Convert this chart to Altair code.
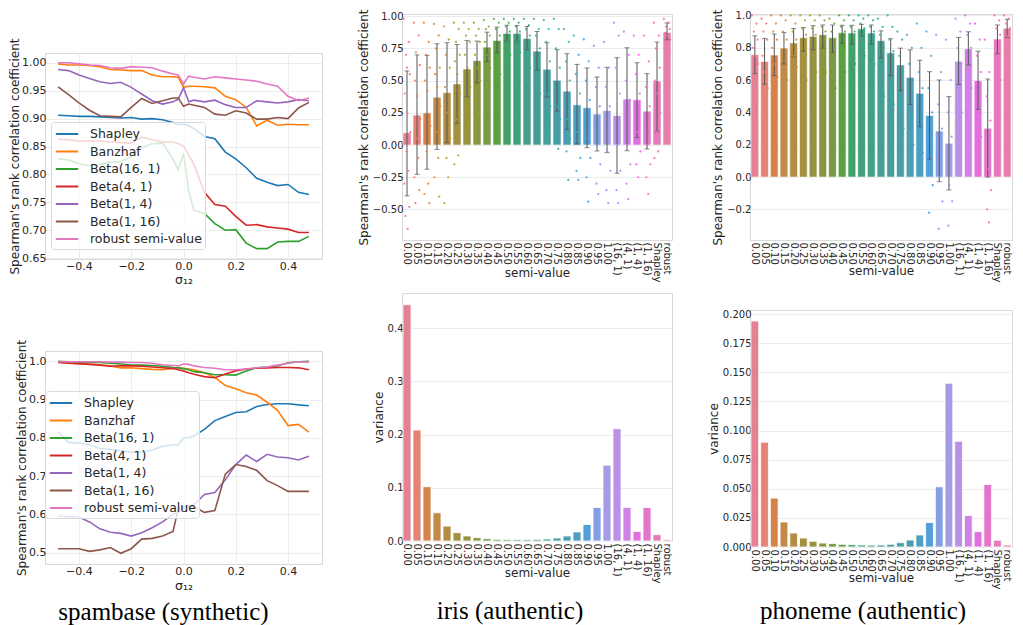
import math
import colorsys
import altair as alt
import pandas as pd

# ---------------- data ----------------
sigma = [-0.48, -0.44, -0.40, -0.36, -0.32, -0.28, -0.24, -0.20, -0.16, -0.12, -0.08, -0.04,
         -0.02, 0.00, 0.02,
         0.04, 0.08, 0.12, 0.16, 0.20, 0.24, 0.28, 0.32, 0.36, 0.40, 0.44, 0.48]

series_names = ["Shapley", "Banzhaf", "Beta(16, 1)", "Beta(4, 1)", "Beta(1, 4)", "Beta(1, 16)", "robust semi-value"]

A_shapley = [0.906, 0.905, 0.904, 0.904, 0.903, 0.902, 0.901, 0.902, 0.899, 0.900, 0.898, 0.893, 0.889, 0.890, 0.887,
             0.882, 0.868, 0.864, 0.840, 0.828, 0.812, 0.793, 0.786, 0.780, 0.782, 0.768, 0.764]
A_banzhaf = [0.998, 0.996, 0.996, 0.995, 0.993, 0.988, 0.987, 0.986, 0.986, 0.978, 0.975, 0.975, 0.974, 0.956, 0.958,
             0.958, 0.957, 0.955, 0.940, 0.934, 0.920, 0.887, 0.897, 0.888, 0.890, 0.889, 0.889]
A_beta16_1 = [0.828, 0.826, 0.819, 0.815, 0.818, 0.822, 0.823, 0.832, 0.848, 0.855, 0.856, 0.827, 0.808, 0.838, 0.770,
              0.736, 0.730, 0.712, 0.700, 0.701, 0.677, 0.667, 0.667, 0.679, 0.680, 0.680, 0.689]
A_beta4_1 = [0.863, 0.862, 0.860, 0.860, 0.860, 0.858, 0.857, 0.856, 0.867, 0.862, 0.858, 0.858, 0.855, 0.851, 0.835,
             0.818, 0.768, 0.746, 0.743, 0.725, 0.709, 0.710, 0.706, 0.704, 0.702, 0.696, 0.696]
A_beta1_4 = [0.988, 0.986, 0.978, 0.972, 0.966, 0.963, 0.965, 0.956, 0.944, 0.932, 0.926, 0.930, 0.935, 0.955, 0.930,
             0.933, 0.930, 0.933, 0.925, 0.920, 0.920, 0.932, 0.930, 0.928, 0.930, 0.934, 0.932]
A_beta1_16 = [0.957, 0.943, 0.928, 0.915, 0.905, 0.904, 0.903, 0.920, 0.936, 0.927, 0.932, 0.937, 0.937, 0.922, 0.926,
              0.924, 0.920, 0.908, 0.906, 0.914, 0.910, 0.899, 0.899, 0.902, 0.900, 0.919, 0.929]
A_robust = [1.000, 1.000, 0.998, 0.996, 0.995, 0.991, 0.990, 0.993, 0.992, 0.991, 0.985, 0.980, 0.978, 0.962, 0.976,
            0.974, 0.971, 0.975, 0.973, 0.971, 0.969, 0.967, 0.962, 0.958, 0.940, 0.932, 0.937]

D_shapley = [0.816, 0.788, 0.786, 0.782, 0.772, 0.770, 0.766, 0.762, 0.763, 0.768, 0.778, 0.782, 0.782, 0.800, 0.801,
             0.805, 0.822, 0.845, 0.856, 0.866, 0.868, 0.882, 0.887, 0.889, 0.889, 0.886, 0.884]
D_banzhaf = [0.998, 0.996, 0.994, 0.993, 0.991, 0.988, 0.983, 0.983, 0.981, 0.979, 0.978, 0.982, 0.983, 0.982, 0.980,
             0.978, 0.970, 0.958, 0.937, 0.928, 0.918, 0.912, 0.893, 0.872, 0.832, 0.835, 0.815]
D_beta16_1 = [1.000, 0.999, 0.998, 0.998, 0.997, 0.995, 0.993, 0.990, 0.990, 0.989, 0.987, 0.984, 0.983, 0.981, 0.978,
              0.973, 0.970, 0.965, 0.965, 0.964, 0.975, 0.983, 0.985, 0.988, 0.996, 0.999, 1.000]
D_beta4_1 = [0.997, 0.995, 0.994, 0.992, 0.990, 0.987, 0.988, 0.988, 0.987, 0.985, 0.983, 0.981, 0.978, 0.975, 0.970,
             0.966, 0.960, 0.957, 0.967, 0.975, 0.980, 0.982, 0.983, 0.984, 0.984, 0.983, 0.978]
D_beta1_4 = [0.595, 0.594, 0.593, 0.580, 0.562, 0.553, 0.550, 0.543, 0.552, 0.565, 0.580, 0.600, 0.605, 0.615, 0.620,
             0.625, 0.652, 0.657, 0.690, 0.730, 0.755, 0.738, 0.757, 0.750, 0.748, 0.742, 0.752]
D_beta1_16 = [0.510, 0.510, 0.510, 0.503, 0.507, 0.513, 0.498, 0.510, 0.535, 0.537, 0.543, 0.555, 0.615, 0.620, 0.622,
              0.620, 0.605, 0.610, 0.705, 0.730, 0.725, 0.715, 0.688, 0.675, 0.660, 0.660, 0.660]
D_robust = [0.999, 0.999, 0.999, 0.999, 0.999, 0.998, 0.998, 0.997, 0.997, 0.995, 0.991, 0.989, 0.988, 0.993, 0.992,
            0.988, 0.984, 0.982, 0.978, 0.978, 0.980, 0.983, 0.985, 0.990, 0.995, 0.999, 0.998]

cats = ["0.00", "0.05", "0.10", "0.15", "0.20", "0.25", "0.30", "0.35", "0.40", "0.45", "0.50",
        "0.55", "0.60", "0.65", "0.70", "0.75", "0.80", "0.85", "0.90", "0.95", "1.00",
        "(16, 1)", "(4, 1)", "(1, 4)", "(1, 16)", "Shapley", "robust"]

iris_mean = [0.095, 0.232, 0.250, 0.371, 0.407, 0.474, 0.590, 0.655, 0.760, 0.812, 0.866, 0.866, 0.827, 0.729,
             0.588, 0.503, 0.418, 0.312, 0.289, 0.240, 0.268, 0.229, 0.356, 0.351, 0.263, 0.497, 0.874]
iris_lo = [-0.394, -0.227, -0.188, -0.034, 0.018, 0.168, 0.374, 0.482, 0.649, 0.716, 0.804, 0.799, 0.740, 0.580,
           0.374, 0.263, 0.121, 0.008, -0.021, -0.046, -0.059, -0.219, -0.044, 0.059, -0.031, 0.103, 0.817]
iris_hi = [0.575, 0.700, 0.696, 0.786, 0.794, 0.780, 0.812, 0.807, 0.876, 0.915, 0.930, 0.928, 0.920, 0.881,
           0.794, 0.740, 0.709, 0.626, 0.598, 0.528, 0.603, 0.678, 0.755, 0.639, 0.554, 0.799, 0.948]
iris_pts = [
    [0.98, 0.80, 0.70, 0.55, 0.40, 0.25, 0.10, -0.05, -0.20, -0.30, -0.48, -0.55, -0.65, 0.60],
    [0.95, 0.85, 0.72, 0.62, 0.50, 0.38, 0.20, 0.05, -0.10, -0.25, -0.35, -0.45],
    [0.95, 0.80, 0.70, 0.60, 0.50, 0.42, 0.15, -0.05, -0.30, -0.38, -0.45],
    [0.94, 0.85, 0.75, 0.60, 0.55, 0.45, 0.30, 0.10, -0.10, -0.25, -0.40],
    [0.92, 0.82, 0.70, 0.60, 0.45, 0.25, 0.05, -0.10, -0.25, -0.45],
    [0.95, 0.90, 0.80, 0.70, 0.65, 0.55, 0.40, 0.20, -0.08, -0.15],
    [0.95, 0.90, 0.85, 0.80, 0.70, 0.60, 0.45, 0.30, 0.15],
    [0.95, 0.90, 0.85, 0.80, 0.70, 0.60, 0.50, 0.35, 0.25],
    [0.97, 0.92, 0.90, 0.85, 0.80, 0.70, 0.60, 0.45],
    [0.98, 0.95, 0.90, 0.85, 0.78, 0.70, 0.55, 0.50],
    [0.98, 0.95, 0.92, 0.88, 0.85, 0.80, 0.70, 0.65],
    [0.98, 0.95, 0.92, 0.88, 0.85, 0.80, 0.72],
    [0.98, 0.93, 0.90, 0.85, 0.80, 0.70, 0.60, 0.50],
    [0.98, 0.90, 0.85, 0.75, 0.65, 0.55, 0.40, 0.30],
    [0.97, 0.90, 0.80, 0.65, 0.50, 0.40, 0.30, 0.20, 0.10],
    [0.98, 0.90, 0.75, 0.60, 0.45, 0.30, 0.20, 0.05, -0.03],
    [0.90, 0.80, 0.65, 0.50, 0.35, 0.20, 0.05, -0.05, -0.27],
    [0.85, 0.70, 0.55, 0.40, 0.25, 0.10, -0.10, -0.20, -0.27],
    [0.82, 0.65, 0.50, 0.35, 0.20, 0.05, -0.10, -0.25, -0.44],
    [0.77, 0.60, 0.45, 0.30, 0.15, 0.00, -0.15, -0.30, -0.38],
    [0.80, 0.60, 0.45, 0.30, 0.15, -0.05, -0.20, -0.35, -0.45],
    [0.95, 0.85, 0.60, 0.40, 0.20, 0.00, -0.20, -0.35, -0.45],
    [0.88, 0.70, 0.50, 0.35, 0.20, 0.00, -0.15, -0.30, -0.42],
    [0.85, 0.70, 0.55, 0.40, 0.25, 0.10, -0.05, -0.15, -0.25],
    [0.85, 0.65, 0.45, 0.30, 0.15, 0.00, -0.15, -0.25, -0.38],
    [0.95, 0.85, 0.75, 0.60, 0.50, 0.40, 0.25, 0.10, -0.05, -0.10],
    [0.98, 0.95, 0.92, 0.90, 0.87, 0.85, 0.82, 0.80],
]

phon_mean = [0.757, 0.715, 0.755, 0.798, 0.830, 0.862, 0.870, 0.881, 0.862, 0.893, 0.891, 0.917, 0.891, 0.844,
             0.769, 0.694, 0.617, 0.518, 0.381, 0.285, 0.209, 0.717, 0.794, 0.597, 0.302, 0.854, 0.921]
phon_lo = [0.640, 0.575, 0.628, 0.700, 0.743, 0.779, 0.789, 0.798, 0.773, 0.828, 0.824, 0.874, 0.822, 0.737,
           0.628, 0.536, 0.449, 0.312, 0.111, -0.028, -0.079, 0.573, 0.694, 0.419, 0.000, 0.763, 0.864]
phon_hi = [0.874, 0.858, 0.885, 0.895, 0.919, 0.925, 0.937, 0.941, 0.941, 0.939, 0.939, 0.945, 0.941, 0.905,
           0.856, 0.798, 0.787, 0.723, 0.652, 0.601, 0.498, 0.864, 0.899, 0.779, 0.607, 0.941, 0.976]
phon_pts = [
    [1.00, 0.95, 0.90, 0.85, 0.80, 0.75, 0.70, 0.60, 0.45],
    [0.98, 0.95, 0.90, 0.85, 0.75, 0.65, 0.55, 0.45],
    [1.00, 0.95, 0.90, 0.85, 0.80, 0.70, 0.62, 0.50],
    [1.00, 0.97, 0.90, 0.85, 0.75, 0.65, 0.60],
    [1.00, 0.95, 0.90, 0.85, 0.80, 0.75, 0.68],
    [1.00, 0.97, 0.92, 0.88, 0.82, 0.75, 0.60],
    [1.00, 0.97, 0.92, 0.88, 0.82, 0.75, 0.65],
    [1.00, 0.97, 0.93, 0.90, 0.85, 0.78, 0.65],
    [0.98, 0.95, 0.90, 0.85, 0.78, 0.65, 0.55],
    [1.00, 0.97, 0.93, 0.90, 0.85, 0.78, 0.65],
    [1.00, 0.97, 0.93, 0.90, 0.85, 0.80, 0.70],
    [1.00, 0.98, 0.95, 0.92, 0.88, 0.82, 0.75],
    [1.00, 0.97, 0.93, 0.90, 0.85, 0.80, 0.70],
    [0.98, 0.93, 0.88, 0.80, 0.70, 0.62, 0.50],
    [1.00, 0.93, 0.85, 0.78, 0.68, 0.55, 0.45],
    [0.90, 0.85, 0.75, 0.65, 0.55, 0.45, 0.30],
    [0.88, 0.80, 0.70, 0.60, 0.50, 0.38, 0.20],
    [0.95, 0.80, 0.65, 0.55, 0.45, 0.30, 0.15],
    [0.90, 0.75, 0.55, 0.40, 0.25, 0.10, -0.05, -0.22],
    [0.88, 0.65, 0.45, 0.30, 0.15, 0.00, -0.15, -0.32],
    [0.85, 0.60, 0.40, 0.25, 0.10, -0.05, -0.15, -0.30],
    [0.98, 0.90, 0.80, 0.70, 0.60, 0.50, 0.40],
    [1.00, 0.95, 0.88, 0.80, 0.72, 0.65, 0.55],
    [0.95, 0.85, 0.75, 0.65, 0.55, 0.40, 0.25],
    [0.85, 0.65, 0.50, 0.35, 0.20, 0.05, -0.08, -0.20, -0.28],
    [1.00, 0.97, 0.92, 0.88, 0.82, 0.75, 0.60],
    [1.00, 0.98, 0.95, 0.92, 0.90, 0.87],
]

iris_var = [0.444, 0.2085, 0.102, 0.053, 0.028, 0.0157, 0.0094, 0.0063, 0.0044, 0.0030, 0.0025, 0.0025, 0.0025,
            0.0030, 0.0038, 0.0056, 0.0094, 0.017, 0.031, 0.063, 0.1425, 0.211, 0.063, 0.018, 0.063, 0.012, 0.0025]
phon_var = [0.194, 0.090, 0.042, 0.0215, 0.012, 0.0077, 0.0049, 0.0034, 0.0029, 0.0023, 0.0020, 0.0017, 0.0016,
            0.0017, 0.0023, 0.0037, 0.0060, 0.0103, 0.021, 0.0517, 0.1406, 0.0907, 0.027, 0.0132, 0.0537, 0.0058, 0.0017]

captions = ["spambase (synthetic)", "iris (authentic)", "phoneme (authentic)"]

# ---------------- styling ----------------
FONT = "DejaVu Sans"
TXT = "#262626"
TAB = ["#1f77b4", "#ff7f0e", "#2ca02c", "#d62728", "#9467bd", "#8c564b", "#e377c2"]
JIT = [-0.9, 0.5, -0.3, 0.8, -0.6, 0.1, 0.95, -0.15, 0.35, -0.75, 0.65, -0.45, 0.2, -0.05]

# seaborn-like husl palette
_M = [[3.240969941904521, -1.537383177570093, -0.498610760293],
      [-0.96924363628087, 1.87596750150772, 0.041555057407175],
      [0.055630079696993, -0.20397695888897, 1.056971514242878]]
_REF_U, _REF_V, _KAPPA, _EPS = 0.19783000664283, 0.46831999493879, 903.2962962, 0.0088564516


def _max_chroma(L, H):
    hrad = math.radians(H)
    sinH, cosH = math.sin(hrad), math.cos(hrad)
    sub1 = (L + 16) ** 3 / 1560896.0
    sub2 = sub1 if sub1 > _EPS else L / _KAPPA
    res = float("inf")
    for m1, m2, m3 in _M:
        top = (0.99915 * m1 + 1.05122 * m2 + 1.14460 * m3) * sub2
        rb = 0.86330 * m3 - 0.17266 * m2
        lb = 0.12949 * m3 - 0.38848 * m1
        bottom = (rb * sinH + lb * cosH) * sub2
        for t in (0.0, 1.0):
            C = L * (top - 1.05122 * t) / (bottom + 0.17266 * sinH * t)
            if 0.0 < C < res:
                res = C
    return res


def husl_to_rgb(h, s, l):
    C = _max_chroma(l, h) / 100.0 * s
    hr = math.radians(h)
    U, V = math.cos(hr) * C, math.sin(hr) * C
    Y = ((l + 16) / 116.0) ** 3 if l > 8 else l / _KAPPA
    vu = U / (13 * l) + _REF_U
    vv = V / (13 * l) + _REF_V
    X = -(9 * Y * vu) / ((vu - 4) * vv - vu * vv)
    Z = (9 * Y - 15 * vv * Y - vv * X) / (3 * vv)
    out = []
    for row in _M:
        c = row[0] * X + row[1] * Y + row[2] * Z
        c = 12.92 * c if c <= 0.0031308 else 1.055 * c ** (1 / 2.4) - 0.055
        out.append(min(max(c, 0.0), 1.0))
    return out


def to_hex(rgb):
    return "#" + "".join("%02x" % int(round(v * 255)) for v in rgb)


n = len(cats)
full_cols, bar_cols = [], []
for i in range(n):
    hue = ((i / n) + 0.01) % 1 * 359
    rgb = husl_to_rgb(hue, 0.9 * 99, 0.65 * 99)
    full_cols.append(to_hex(rgb))
    hh, ll, ss = colorsys.rgb_to_hls(*rgb)
    bar_cols.append(to_hex(colorsys.hls_to_rgb(hh, ll, ss * 0.75)))


def nostroke():
    return alt.ViewBackground(stroke="transparent")


def spacer(w, h):
    return alt.Chart(pd.DataFrame({"a": [0]})).mark_point(opacity=0, size=1).encode(
        x=alt.value(w / 2), y=alt.value(h / 2)).properties(width=w, height=h, view=nostroke())


def caption(text, cx, w, h=28, base=20):
    return alt.Chart(pd.DataFrame({"t": [text]})).mark_text(
        font="Liberation Serif", fontSize=25, align="center", baseline="alphabetic", color="#000000"
    ).encode(text="t:N", x=alt.value(cx), y=alt.value(base)).properties(width=w, height=h, view=nostroke())


def line_panel(values, ydom, yticks, yfmt, w, h, lx, ly, title_y):
    rows = []
    for name, vals in zip(series_names, values):
        for s, v in zip(sigma, vals):
            rows.append({"sigma": s, "series": name, "value": v})
    df = pd.DataFrame(rows)
    return alt.Chart(df).mark_line(strokeWidth=1.6).encode(
        x=alt.X("sigma:Q", scale=alt.Scale(domain=[-0.53, 0.53], nice=False, zero=False),
                axis=alt.Axis(values=[-0.4, -0.2, 0.0, 0.2, 0.4], format=".1f", title="σ₁₂",
                              labelFontSize=11, titleFontSize=12.5, labelPadding=1.5,
                              titleY=title_y, titleBaseline="middle", grid=True, labelFlush=False)),
        y=alt.Y("value:Q", scale=alt.Scale(domain=ydom, nice=False, zero=False),
                axis=alt.Axis(values=yticks, format=yfmt, title="Spearman's rank correlation coefficient",
                              labelFontSize=11, titleFontSize=12, labelPadding=-1, titlePadding=0, grid=True)),
        color=alt.Color("series:N", scale=alt.Scale(domain=series_names, range=TAB),
                        legend=alt.Legend(orient="none", legendX=lx, legendY=ly, title=None,
                                          fillColor="rgba(255,255,255,0.8)", strokeColor="#d9d9d9",
                                          cornerRadius=3, padding=3, symbolType="M-1.4,0H1.4",
                                          symbolSize=256, symbolStrokeWidth=2, symbolOffset=4,
                                          labelFontSize=12.5, labelFont=FONT, labelColor=TXT,
                                          labelOffset=14, rowPadding=1.5)),
    ).properties(width=w, height=h)


def xcat(title_y):
    return alt.X("cat:N", sort=cats,
                 scale=alt.Scale(domain=cats, paddingInner=0.2, paddingOuter=0.1),
                 axis=alt.Axis(title="semi-value", labelAngle=90, labelFontSize=10, labelPadding=2,
                               labelOverlap=False, grid=False, titleY=title_y, titleBaseline="middle",
                               titleFontSize=12))


def yaxis(title, yticks, yfmt):
    return alt.Axis(values=yticks, format=yfmt, title=title, labelFontSize=10, labelPadding=-1,
                    titlePadding=2, titleFontSize=12, grid=True)


def corr_panel(means, lo, hi, pts, ydom, yticks, yfmt, w, h, title_y):
    df = pd.DataFrame({"cat": cats, "mean": means, "lo": lo, "hi": hi})
    ys = alt.Scale(domain=ydom, nice=False, zero=False)
    ax = yaxis("Spearman's rank correlation coefficient", yticks, yfmt)
    bars = alt.Chart(df).mark_bar(stroke="white", strokeWidth=0.6).encode(
        x=xcat(title_y), y=alt.Y("mean:Q", scale=ys, axis=ax),
        color=alt.Color("cat:N", scale=alt.Scale(domain=cats, range=bar_cols), legend=None))
    rules = alt.Chart(df).mark_rule(color="#555555", strokeWidth=1).encode(
        x=xcat(title_y), y=alt.Y("lo:Q", scale=ys, axis=ax), y2="hi:Q")
    cap_lo = alt.Chart(df).mark_tick(orient="horizontal", size=5, thickness=1, color="#555555").encode(
        x=xcat(title_y), y=alt.Y("lo:Q", scale=ys, axis=ax))
    cap_hi = alt.Chart(df).mark_tick(orient="horizontal", size=5, thickness=1, color="#555555").encode(
        x=xcat(title_y), y=alt.Y("hi:Q", scale=ys, axis=ax))
    prow = []
    for i, vals in enumerate(pts):
        for j, v in enumerate(vals):
            prow.append({"cat": cats[i], "jx": i + JIT[j % len(JIT)] * 0.35, "v": v})
    dp = pd.DataFrame(prow)
    dots = alt.Chart(dp).mark_circle(size=5, opacity=0.9).encode(
        x=alt.X("jx:Q", scale=alt.Scale(domain=[-0.5, n - 0.5], nice=False, zero=False), axis=None),
        y=alt.Y("v:Q", scale=ys, axis=ax),
        color=alt.Color("cat:N", scale=alt.Scale(domain=cats, range=full_cols), legend=None))
    inner = alt.layer(bars, rules, cap_lo, cap_hi)
    return alt.layer(inner, dots).resolve_scale(x="independent", color="independent").properties(
        width=w, height=h)


def var_panel(vals, ydom, yticks, yfmt, w, h, title_y):
    df = pd.DataFrame({"cat": cats, "var": vals})
    return alt.Chart(df).mark_bar(stroke="white", strokeWidth=0.8).encode(
        x=xcat(title_y),
        y=alt.Y("var:Q", scale=alt.Scale(domain=ydom, nice=False, zero=False),
                axis=yaxis("variance", yticks, yfmt)),
        color=alt.Color("cat:N", scale=alt.Scale(domain=cats, range=bar_cols), legend=None),
    ).properties(width=w, height=h)


W1, W2, W3 = 277, 270, 262

A = line_panel([A_shapley, A_banzhaf, A_beta16_1, A_beta4_1, A_beta1_4, A_beta1_16, A_robust],
               [0.6485, 1.0175], [0.65, 0.70, 0.75, 0.80, 0.85, 0.90, 0.95, 1.00], ".2f",
               W1, 206, 6, 69, 20)
D = line_panel([D_shapley, D_banzhaf, D_beta16_1, D_beta4_1, D_beta1_4, D_beta1_16, D_robust],
               [0.47, 1.027], [0.5, 0.6, 0.7, 0.8, 0.9, 1.0], ".1f",
               W1, 213, 0, 40, 21.5)
B = corr_panel(iris_mean, iris_lo, iris_hi, iris_pts, [-0.737, 1.017],
               [-0.5, -0.25, 0.0, 0.25, 0.5, 0.75, 1.0], ".2f", W2, 226, 32.5)
C = corr_panel(phon_mean, phon_lo, phon_hi, phon_pts, [-0.389, 1.009],
               [-0.2, 0.0, 0.2, 0.4, 0.6, 0.8, 1.0], ".1f", W3, 226, 30.5)
E = var_panel(iris_var, [0, 0.466], [0.0, 0.1, 0.2, 0.3, 0.4], ".1f", W2, 248, 31)
F = var_panel(phon_var, [0, 0.2035], [0.0, 0.025, 0.05, 0.075, 0.1, 0.125, 0.15, 0.175, 0.2], ".3f",
              W3, 237, 30)

col1 = alt.vconcat(spacer(1, 22), A, spacer(1, 50.5), D, spacer(1, 4.3), caption(captions[0], 118.5, W1),
                   spacing=0).resolve_scale(color="independent")
col2 = alt.vconcat(B, spacer(1, 7.5), E, spacer(1, 12), caption(captions[1], 108, W2),
                   spacing=0).resolve_scale(color="independent")
col3 = alt.vconcat(C, spacer(1, 22.8), F, spacer(1, 6), caption(captions[2], 113, W3),
                   spacing=0).resolve_scale(color="independent")

chart = alt.hconcat(col1, spacer(31, 1), col2, spacer(31, 1), col3, spacing=0).resolve_scale(
    color="independent"
).properties(
    padding={"left": 0, "top": 0, "right": 0, "bottom": 0}
).configure_axis(
    labelFont=FONT, titleFont=FONT, labelColor=TXT, titleColor=TXT, titleFontWeight="normal",
    ticks=False, tickSize=0, domain=False, gridColor="#ececec", gridWidth=1
).configure_view(stroke="#d9d9d9", strokeWidth=1)

chart.save("out.html", embed_options={"renderer": "svg", "actions": False})
